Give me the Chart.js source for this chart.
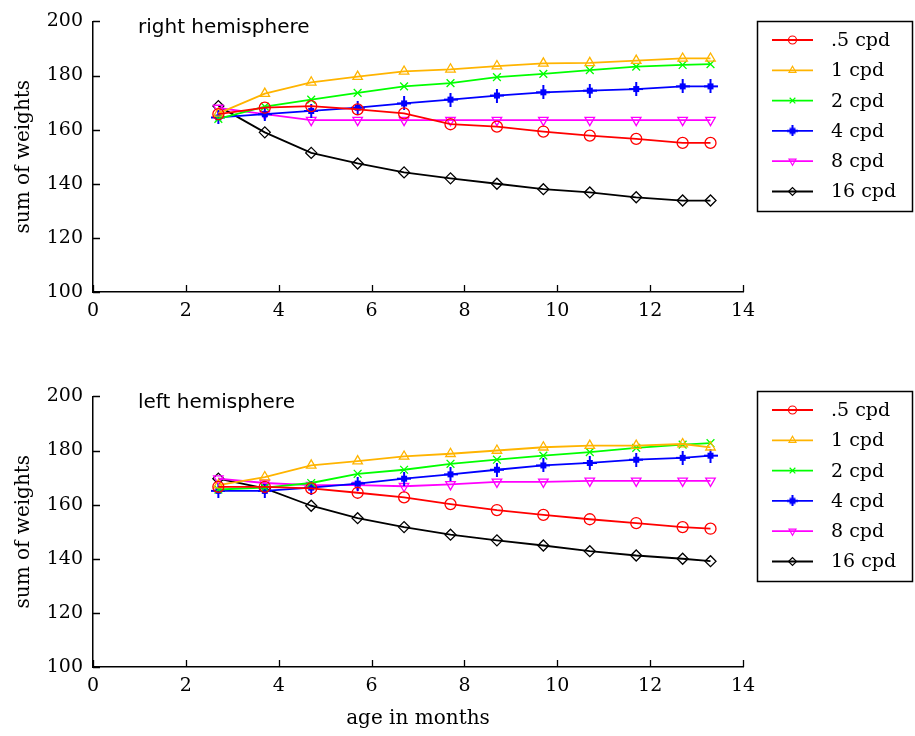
<!DOCTYPE html>
<html>
<head>
<meta charset="utf-8">
<script src="https://cdn.jsdelivr.net/npm/chart.js@4.4.1/dist/chart.umd.min.js"></script>
<style>
  html, body { margin: 0; padding: 0; background: #fff; }
  #wrap { position: relative; width: 915px; height: 736px; overflow: hidden; }
  .panel { position: absolute; left: 0; width: 915px; height: 360px; }
</style>
</head>
<body>
<div id="wrap">
  <div class="panel" style="top:0"><canvas id="rightChart" width="915" height="360"></canvas></div>
  <div class="panel" style="top:375px"><canvas id="leftChart" width="915" height="360"></canvas></div>
</div>
<script>
// age in months (x) and the axis ticks
const ageMonths = [2.7, 3.7, 4.7, 5.7, 6.7, 7.7, 8.7, 9.7, 10.7, 11.7, 12.7, 13.3];
const xTickValues = [0, 2, 4, 6, 8, 10, 12, 14];
const yTickValues = [100, 120, 140, 160, 180, 200];

const seriesLabels = ['.5 cpd', '1 cpd', '2 cpd', '4 cpd', '8 cpd', '16 cpd'];
const seriesColors = ['#ff0000', '#ffb400', '#00ff00', '#0000ff', '#ff00ff', '#000000'];

// right hemisphere, sum of weights
const rightHalfCpd = [165.7, 168.1, 168.7, 167.5, 166.0, 162.0, 161.1, 159.3, 157.8, 156.6, 155.1, 155.1];
const rightOneCpd = [166.0, 173.3, 177.5, 179.6, 181.5, 182.3, 183.5, 184.5, 184.7, 185.5, 186.3, 186.3];
const rightTwoCpd = [164.0, 168.5, 171.1, 173.6, 176.0, 177.2, 179.4, 180.6, 182.0, 183.3, 183.9, 184.2];
const rightFourCpd = [164.5, 165.7, 166.9, 168.1, 169.7, 171.1, 172.6, 173.8, 174.4, 175.0, 176.0, 176.0];
const rightEightCpd = [168.0, 165.7, 163.5, 163.5, 163.5, 163.5, 163.5, 163.5, 163.5, 163.5, 163.5, 163.5];
const rightSixteenCpd = [168.7, 159.0, 151.4, 147.5, 144.2, 142.0, 140.0, 138.0, 136.8, 135.0, 133.8, 133.8];

// left hemisphere, sum of weights
const leftHalfCpd = [166.6, 166.6, 166.0, 164.4, 162.7, 160.2, 158.0, 156.2, 154.6, 153.2, 151.7, 151.1];
const leftOneCpd = [167.2, 170.2, 174.5, 176.1, 177.8, 178.8, 180.0, 181.2, 181.8, 181.8, 182.4, 181.2];
const leftTwoCpd = [165.6, 166.3, 168.0, 171.4, 172.9, 175.1, 176.6, 178.1, 179.4, 181.0, 182.2, 182.7];
const leftFourCpd = [165.1, 165.1, 166.3, 167.8, 169.6, 171.2, 172.9, 174.5, 175.4, 176.6, 177.3, 178.1];
const leftEightCpd = [169.6, 168.0, 167.2, 167.2, 166.8, 167.5, 168.4, 168.4, 168.8, 168.8, 168.8, 168.8];
const leftSixteenCpd = [169.6, 166.0, 159.6, 155.0, 151.7, 148.9, 146.8, 144.9, 142.8, 141.2, 140.0, 139.1];

const serifFont = '"DejaVu Serif", serif';
const sansFont = '"DejaVu Sans", sans-serif';

// plus marker with a filled centre (matlab-ish)
function makePlusMarker(color, size) {
  const c = document.createElement('canvas');
  c.width = size;
  c.height = size;
  const g = c.getContext('2d');
  const m = size / 2;
  g.fillStyle = color;
  g.fillRect(m - 1, 0, 2, size);
  g.fillRect(0, m - 1, size, 2);
  g.fillRect(m - 3, m - 3, 6, 6);
  return c;
}

const markerStyles = ['circle', 'triangle', 'crossRot', makePlusMarker('#0000ff', 14), 'triangle', 'rectRot'];
const legendMarkers = ['circle', 'triangle', 'crossRot', makePlusMarker('#0000ff', 11), 'triangle', 'rectRot'];
const markerRotation = [0, 0, 0, 0, 180, 0];

const buildDatasets = (seriesList) =>
  seriesList.map((values, i) => ({
    label: seriesLabels[i],
    data: ageMonths.map((x, j) => ({ x, y: values[j] })),
    borderColor: seriesColors[i],
    backgroundColor: seriesColors[i],
    borderWidth: 1.8,
    pointStyle: markerStyles[i],
    pointRotation: markerRotation[i],
    pointRadius: 5.5,
    pointBorderWidth: 1.3,
    pointBackgroundColor: 'rgba(0,0,0,0)',
    pointBorderColor: seriesColors[i],
    tension: 0,
  }));

// Axis ticks, titles and the boxed legend
const panelDecor = {
  id: 'panelDecor',
  afterDraw(chart, args, opts) {
    const { ctx, chartArea, scales } = chart;
    ctx.save();
    ctx.strokeStyle = '#000';
    ctx.lineWidth = 1.3;

    // inward tick marks
    ctx.beginPath();
    xTickValues.forEach((v) => {
      const px = Math.round(scales.x.getPixelForValue(v)) + 0.5;
      ctx.moveTo(px, chartArea.bottom);
      ctx.lineTo(px, chartArea.bottom - 7);
    });
    yTickValues.forEach((v) => {
      const py = Math.round(scales.y.getPixelForValue(v)) + 0.5;
      ctx.moveTo(chartArea.left, py);
      ctx.lineTo(chartArea.left + 7, py);
    });
    ctx.stroke();

    ctx.fillStyle = '#000';

    // panel title inside the plot
    ctx.font = '20px ' + sansFont;
    ctx.textAlign = 'left';
    ctx.textBaseline = 'alphabetic';
    ctx.fillText(opts.title, chartArea.left + 45, chartArea.top + 12);

    // y axis title
    ctx.save();
    ctx.translate(24, (chartArea.top + chartArea.bottom) / 2);
    ctx.rotate(-Math.PI / 2);
    ctx.font = '20px ' + serifFont;
    ctx.textAlign = 'center';
    ctx.textBaseline = 'middle';
    ctx.fillText('sum of weights', 0, 0);
    ctx.restore();

    // x axis title
    if (opts.xTitle) {
      ctx.font = '20px ' + serifFont;
      ctx.textAlign = 'center';
      ctx.textBaseline = 'alphabetic';
      ctx.fillText(opts.xTitle, (chartArea.left + chartArea.right) / 2, 349);
    }

    // legend box
    const boxLeft = 757.5;
    const boxTop = opts.legendTop + 0.5;
    const boxW = 155;
    const boxH = 190;
    ctx.lineWidth = 1.5;
    ctx.strokeStyle = '#000';
    ctx.strokeRect(boxLeft, boxTop, boxW, boxH);

    ctx.font = '19px ' + serifFont;
    ctx.textAlign = 'left';
    ctx.textBaseline = 'middle';
    chart.data.datasets.forEach((ds, i) => {
      const y = boxTop + 18.5 + i * 30.3;
      ctx.strokeStyle = ds.borderColor;
      ctx.lineWidth = 1.8;
      ctx.beginPath();
      ctx.moveTo(772, y);
      ctx.lineTo(813, y);
      ctx.stroke();

      ctx.lineWidth = 1.2;
      ctx.fillStyle = 'rgba(0,0,0,0)';
      Chart.helpers.drawPoint(
        ctx,
        { pointStyle: legendMarkers[i], rotation: markerRotation[i], radius: 4, borderWidth: 1.2 },
        792.5,
        y,
      );

      ctx.fillStyle = '#000';
      ctx.fillText(ds.label, 831, y + 1);
    });

    ctx.restore();
  },
};

const buildChart = (canvasId, seriesList, decorOptions) =>
  new Chart(document.getElementById(canvasId), {
    type: 'line',
    data: { datasets: buildDatasets(seriesList) },
    options: {
      responsive: false,
      animation: false,
      layout: { padding: { top: 17, right: 172, bottom: 0, left: 0 } },
      plugins: {
        legend: { display: false },
        tooltip: { enabled: false },
        panelDecor: decorOptions,
      },
      scales: {
        x: {
          type: 'linear',
          min: 0,
          max: 14,
          afterFit: (scale) => {
            scale.height = 68;
          },
          afterBuildTicks: (scale) => {
            scale.ticks = xTickValues.map((value) => ({ value }));
          },
          grid: { display: false, drawTicks: false },
          border: { display: true, color: '#000', width: 1.5 },
          ticks: {
            color: '#000',
            padding: 8,
            maxRotation: 0,
            font: { family: serifFont, size: 19 },
          },
        },
        y: {
          min: 100,
          max: 200,
          afterFit: (scale) => {
            scale.width = 93;
          },
          afterBuildTicks: (scale) => {
            scale.ticks = yTickValues.map((value) => ({ value }));
          },
          grid: { display: false, drawTicks: false },
          border: { display: true, color: '#000', width: 1.5 },
          ticks: {
            color: '#000',
            padding: 10,
            font: { family: serifFont, size: 19 },
          },
        },
      },
    },
    plugins: [panelDecor],
  });

buildChart(
  'rightChart',
  [rightHalfCpd, rightOneCpd, rightTwoCpd, rightFourCpd, rightEightCpd, rightSixteenCpd],
  { title: 'right hemisphere', legendTop: 21 },
);

buildChart(
  'leftChart',
  [leftHalfCpd, leftOneCpd, leftTwoCpd, leftFourCpd, leftEightCpd, leftSixteenCpd],
  { title: 'left hemisphere', legendTop: 16, xTitle: 'age in months' },
);
</script>
</body>
</html>
